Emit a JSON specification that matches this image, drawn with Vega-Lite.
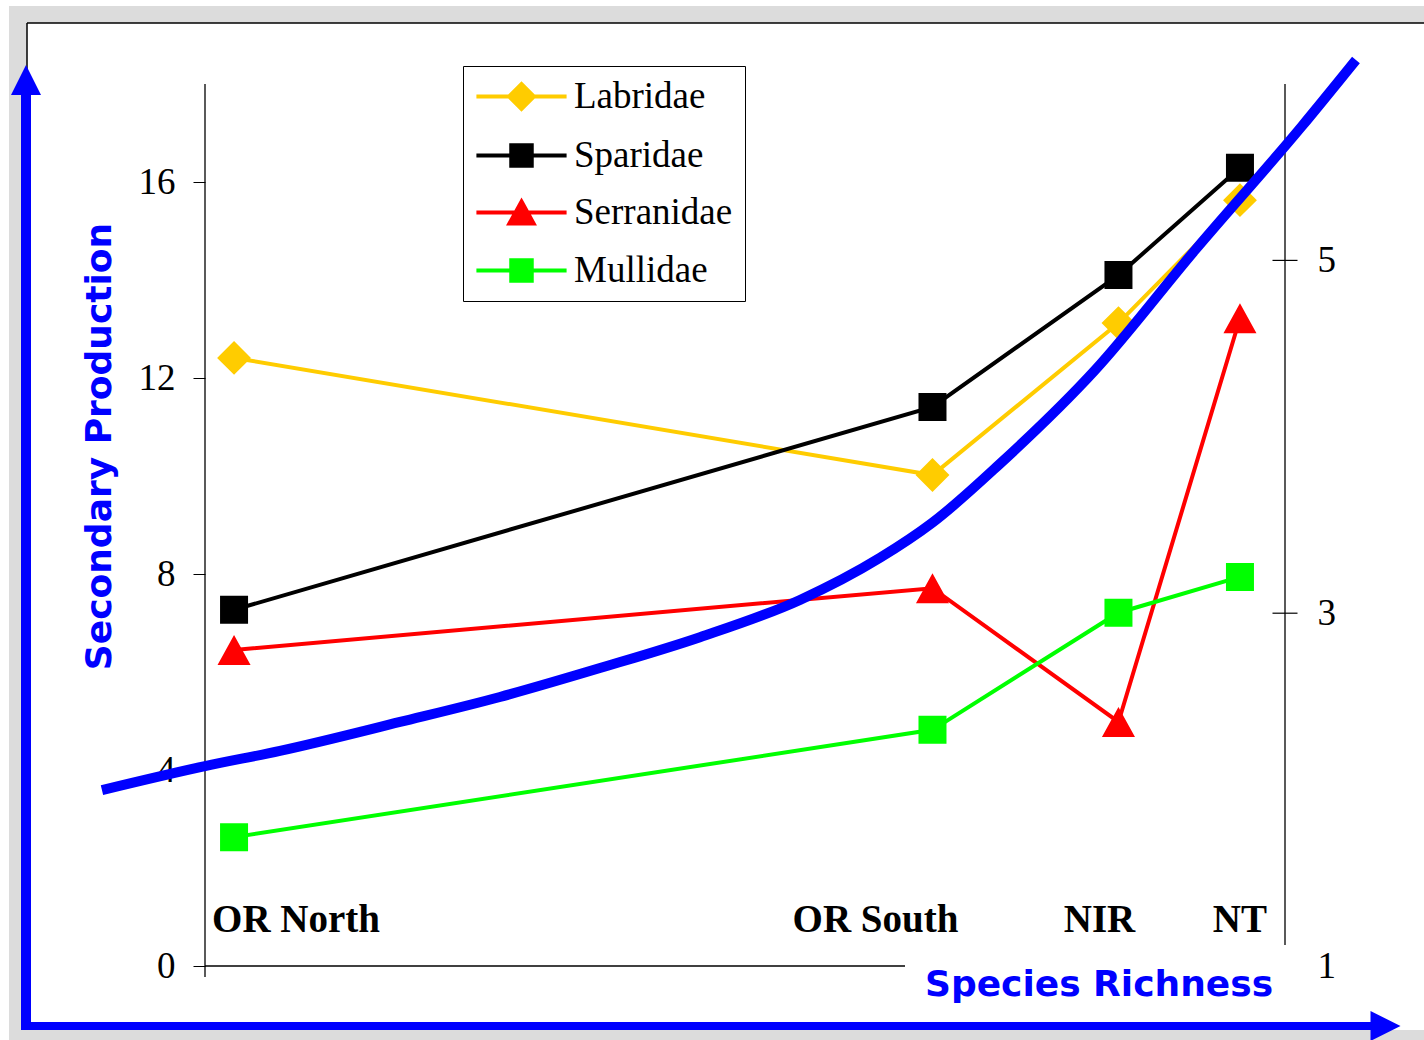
{
  "$schema": "https://vega.github.io/schema/vega-lite/v6.json",
  "width": 1080,
  "height": 882,
  "autosize": {"type": "none"},
  "padding": {"left": 205, "top": 84, "right": 139, "bottom": 74},
  "background": "white",
  "config": {"view": {"stroke": null}, "axis": {"grid": false}},
  "datasets": {
    "families": [
      {"family": "Labridae", "site": "OR North", "richness": 2.69, "production": 12.41},
      {"family": "Labridae", "site": "OR South", "richness": 67.36, "production": 10.02},
      {"family": "Labridae", "site": "NIR", "richness": 84.58, "production": 13.12},
      {"family": "Labridae", "site": "NT", "richness": 95.83, "production": 15.63},
      {"family": "Sparidae", "site": "OR North", "richness": 2.69, "production": 7.27},
      {"family": "Sparidae", "site": "OR South", "richness": 67.36, "production": 11.41},
      {"family": "Sparidae", "site": "NIR", "richness": 84.58, "production": 14.1},
      {"family": "Sparidae", "site": "NT", "richness": 95.83, "production": 16.29},
      {"family": "Serranidae", "site": "OR North", "richness": 2.69, "production": 6.45},
      {"family": "Serranidae", "site": "OR South", "richness": 67.36, "production": 7.71},
      {"family": "Serranidae", "site": "NIR", "richness": 84.58, "production": 4.98},
      {"family": "Serranidae", "site": "NT", "richness": 95.83, "production": 13.22},
      {"family": "Mullidae", "site": "OR North", "richness": 2.69, "production": 2.63},
      {"family": "Mullidae", "site": "OR South", "richness": 67.36, "production": 4.82},
      {"family": "Mullidae", "site": "NIR", "richness": 84.58, "production": 7.21},
      {"family": "Mullidae", "site": "NT", "richness": 95.83, "production": 7.94}
    ],
    "sites": [
      {"site": "OR North", "richness": 2.69},
      {"site": "OR South", "richness": 67.36},
      {"site": "NIR", "richness": 84.58},
      {"site": "NT", "richness": 95.83}
    ],
    "trend": [
      {"richness": -9.54, "production": 3.59},
      {"richness": 0, "production": 4.08},
      {"richness": 6.94, "production": 4.39},
      {"richness": 18.06, "production": 4.98},
      {"richness": 27.31, "production": 5.49},
      {"richness": 36.57, "production": 6.08},
      {"richness": 45.83, "production": 6.71},
      {"richness": 55.09, "production": 7.47},
      {"richness": 62.5, "production": 8.33},
      {"richness": 67.31, "production": 9.04},
      {"richness": 73.61, "production": 10.25},
      {"richness": 82.41, "production": 12.16},
      {"richness": 91.67, "production": 14.61},
      {"richness": 101.57, "production": 17.14},
      {"richness": 106.57, "production": 18.49}
    ]
  },
  "layer": [
    {
      "layer": [
        {
          "description": "grey frame, top strip",
          "data": {"values": [{}]},
          "mark": {"type": "rect", "color": "#dcdcdc"},
          "encoding": {"x": {"datum": -18.148}, "x2": {"datum": 112.9}, "y": {"datum": 19.592}, "y2": {"datum": 19.245}}
        },
        {
          "description": "grey frame, left strip",
          "data": {"values": [{}]},
          "mark": {"type": "rect", "color": "#dcdcdc"},
          "encoding": {"x": {"datum": -18.148}, "x2": {"datum": -16.481}, "y": {"datum": 19.245}, "y2": {"datum": -1.52}}
        },
        {
          "description": "grey frame, bottom strip",
          "data": {"values": [{}]},
          "mark": {"type": "rect", "color": "#dcdcdc"},
          "encoding": {"x": {"datum": -16.481}, "x2": {"datum": 112.9}, "y": {"datum": -1.306}, "y2": {"datum": -1.52}}
        },
        {
          "description": "page border, top",
          "data": {"values": [{}]},
          "mark": {"type": "rule", "color": "black", "strokeWidth": 1.5},
          "encoding": {"x": {"datum": -16.481}, "x2": {"datum": 112.9}, "y": {"datum": 19.245}}
        },
        {
          "description": "page border, left",
          "data": {"values": [{}]},
          "mark": {"type": "rule", "color": "black", "strokeWidth": 1.5},
          "encoding": {"x": {"datum": -16.481}, "y": {"datum": 19.245}, "y2": {"datum": -1.306}}
        },
        {
          "description": "left axis line",
          "data": {"values": [{}]},
          "mark": {"type": "rule", "color": "black", "strokeWidth": 1.3},
          "encoding": {"x": {"datum": 0}, "y": {"datum": -0.2245}, "y2": {"datum": 18}}
        },
        {
          "description": "baseline",
          "data": {"values": [{}]},
          "mark": {"type": "rule", "color": "black", "strokeWidth": 1.3},
          "encoding": {"x": {"datum": 0}, "x2": {"datum": 64.815}, "y": {"datum": 0}}
        },
        {
          "description": "right axis line",
          "data": {"values": [{}]},
          "mark": {"type": "rule", "color": "black", "strokeWidth": 1.3},
          "encoding": {"x": {"datum": 100}, "y": {"datum": 0.4286}, "y2": {"datum": 18}}
        },
        {
          "data": {"name": "families"},
          "mark": {"type": "line", "strokeWidth": 4},
          "encoding": {
            "x": {
              "field": "richness", "type": "quantitative",
              "scale": {"domain": [0, 100], "nice": false, "zero": false},
              "axis": {
                "title": "Species Richness", "labels": false, "ticks": false, "domain": false, "grid": false,
                "titleFont": "DejaVu Sans", "titleFontSize": 36, "titleFontWeight": "bold", "titleColor": "#0000FF",
                "titleX": 893.5, "titleY": 29, "titleAlign": "center", "titleBaseline": "alphabetic"
              }
            },
            "y": {
              "field": "production", "type": "quantitative",
              "scale": {"domain": [0, 18], "nice": false, "zero": false},
              "axis": {
                "values": [0, 4, 8, 12, 16], "domain": false, "grid": false,
                "tickSize": 12, "tickColor": "black", "tickWidth": 1,
                "labelFont": "Liberation Serif", "labelFontSize": 37, "labelColor": "black", "labelPadding": 18,
                "title": "Secondary Production",
                "titleFont": "DejaVu Sans", "titleFontSize": 36, "titleFontWeight": "bold", "titleColor": "#0000FF",
                "titleAngle": 270, "titleX": -95, "titleY": 362, "titleAlign": "center", "titleBaseline": "alphabetic"
              }
            },
            "color": {
              "field": "family", "type": "nominal",
              "scale": {"domain": ["Labridae", "Sparidae", "Serranidae", "Mullidae"], "range": ["#FFCC00", "#000000", "#FF0000", "#00FF00"]}
            },
            "detail": {"field": "family"}
          }
        },
        {
          "data": {"name": "families"},
          "mark": {"type": "point", "filled": true, "size": 784, "opacity": 1},
          "encoding": {
            "x": {"field": "richness", "type": "quantitative"},
            "y": {"field": "production", "type": "quantitative"},
            "color": {
              "field": "family", "type": "nominal",
              "scale": {"domain": ["Labridae", "Sparidae", "Serranidae", "Mullidae"], "range": ["#FFCC00", "#000000", "#FF0000", "#00FF00"]},
              "legend": {
                "title": null, "orient": "none", "legendX": 258, "legendY": -18,
                "fillColor": "white", "strokeColor": "black", "padding": 12, "rowPadding": 19,
                "symbolSize": 420, "symbolStrokeWidth": 4, "symbolOffset": 28,
                "labelOffset": 34, "labelFont": "Liberation Serif", "labelFontSize": 37, "labelColor": "black", "labelLimit": 400
              }
            },
            "stroke": {
              "field": "family", "type": "nominal",
              "scale": {"domain": ["Labridae", "Sparidae", "Serranidae", "Mullidae"], "range": ["#FFCC00", "#000000", "#FF0000", "#00FF00"]}
            },
            "shape": {
              "field": "family", "type": "nominal",
              "scale": {
                "domain": ["Labridae", "Sparidae", "Serranidae", "Mullidae"],
                "range": [
                  "M-4.4,0L4.4,0M-1.21,0L0,-1.21L1.21,0L0,1.21Z",
                  "M-4.4,0L4.4,0M-1,-1L1,-1L1,1L-1,1Z",
                  "M-4.4,0L4.4,0M0,-1.07L1.18,1.07L-1.18,1.07Z",
                  "M-4.4,0L4.4,0M-1,-1L1,-1L1,1L-1,1Z"
                ]
              }
            },
            "strokeOpacity": {"value": 0}
          }
        },
        {
          "data": {"name": "sites"},
          "mark": {
            "type": "text", "font": "Liberation Serif", "fontSize": 39, "fontWeight": "bold", "color": "black",
            "baseline": "alphabetic", "align": "center", "dy": -34,
            "dx": {"expr": "datum.site == 'OR North' ? 62 : datum.site == 'OR South' ? -57 : datum.site == 'NIR' ? -19 : 0"}
          },
          "encoding": {
            "x": {"field": "richness", "type": "quantitative"},
            "y": {"datum": 0},
            "text": {"field": "site"}
          }
        },
        {
          "description": "vertical arrow shaft",
          "data": {"values": [{}]},
          "mark": {"type": "rule", "color": "#0000FF", "strokeWidth": 10, "strokeCap": "butt"},
          "encoding": {"x": {"datum": -16.574}, "y": {"datum": -1.306}, "y2": {"datum": 17.776}}
        },
        {
          "description": "horizontal arrow shaft",
          "data": {"values": [{}]},
          "mark": {"type": "rule", "color": "#0000FF", "strokeWidth": 8, "strokeCap": "butt"},
          "encoding": {"x": {"datum": -17.037}, "x2": {"datum": 108.056}, "y": {"datum": -1.2245}}
        },
        {
          "description": "arrow head, up",
          "data": {"values": [{}]},
          "mark": {"type": "point", "shape": "M0,-1L1,1L-1,1Z", "filled": true, "size": 900, "color": "#0000FF", "opacity": 1},
          "encoding": {"x": {"datum": -16.574}, "y": {"datum": 18.082}}
        },
        {
          "description": "arrow head, right",
          "data": {"values": [{}]},
          "mark": {"type": "point", "shape": "M1,0L-1,-1L-1,1Z", "filled": true, "size": 900, "color": "#0000FF", "opacity": 1},
          "encoding": {"x": {"datum": 109.306}, "y": {"datum": -1.2245}}
        },
        {
          "data": {"name": "trend"},
          "mark": {"type": "line", "color": "#0000FF", "strokeWidth": 10, "interpolate": "monotone", "strokeCap": "butt"},
          "encoding": {
            "x": {"field": "richness", "type": "quantitative"},
            "y": {"field": "production", "type": "quantitative"}
          }
        }
      ]
    },
    {
      "data": {"values": [{"tick": 3}, {"tick": 5}]},
      "mark": {"type": "tick", "orient": "horizontal", "size": 25, "thickness": 1.2, "color": "black", "opacity": 1},
      "encoding": {
        "x": {"datum": 100},
        "y": {
          "field": "tick", "type": "quantitative",
          "scale": {"domain": [1, 6], "nice": false, "zero": false},
          "axis": {
            "orient": "right", "values": [1, 3, 5], "title": null, "domain": false, "ticks": false, "tickSize": 0, "grid": false,
            "labelPadding": 32, "labelAlign": "left", "labelBaseline": "middle",
            "labelFont": "Liberation Serif", "labelFontSize": 37, "labelColor": "black"
          }
        }
      }
    }
  ],
  "resolve": {"scale": {"y": "independent"}}
}
